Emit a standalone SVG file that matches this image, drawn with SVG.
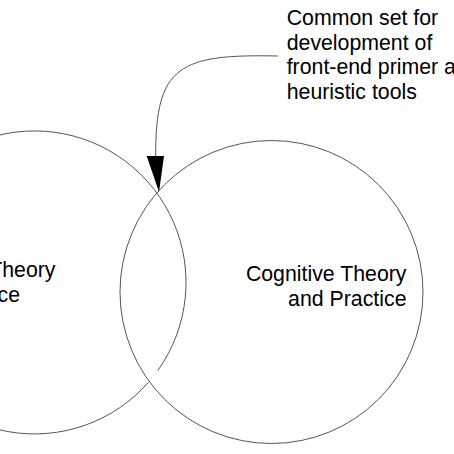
<svg xmlns="http://www.w3.org/2000/svg" width="454" height="454" viewBox="0 0 454 454">
<style>
.c{fill:none;stroke:#555;stroke-width:1}
.t{font-family:"Liberation Sans",Arial,sans-serif;font-size:21.3px;fill:#000}
</style>
<rect width="454" height="454" fill="#fff"/>
<g id="left-set">
<path class="c" d="M148.8,381.9 A151.5,151.5 0 1 1 157.8,370.5"/>
<text class="t" x="55.5" y="276.7" text-anchor="end">Theory</text>
<text class="t" x="20" y="301.7" text-anchor="end">ce</text>
</g>
<g id="right-set">
<circle class="c" cx="271.5" cy="292" r="151.5"/>
<text class="t" text-anchor="end"><tspan x="406.5" y="280.5">Cognitive Theory</tspan><tspan x="406.5" y="306">and Practice</tspan></text>
</g>
<g id="note">
<text class="t"><tspan x="286.7" y="25">Common set for</tspan><tspan x="286.7" y="49.5">development of</tspan><tspan x="286.7" y="74">front-end primer a</tspan><tspan x="286.7" y="98.5">heuristic tools</tspan></text>
</g>
<g id="connectors">
<path class="c" d="M278,56 C180,54 155,65 155.7,157"/>
<polygon points="146.7,156 164,156 159,192" fill="#000"/>
</g>
</svg>
